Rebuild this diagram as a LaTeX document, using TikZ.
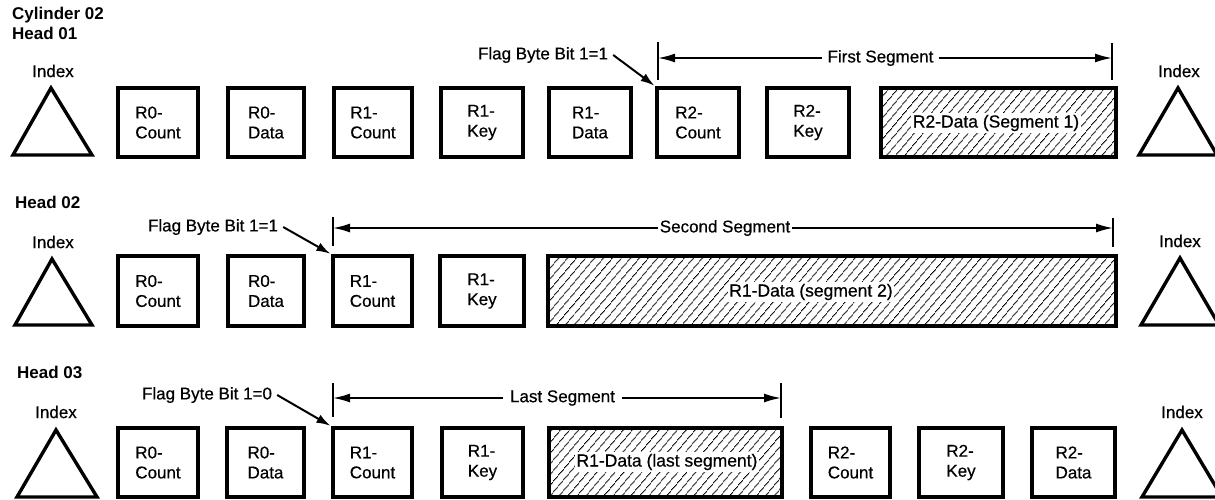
\documentclass[tikz,border=0pt]{standalone}
\usepackage{fontspec}
\setmainfont{Liberation Sans}[FakeBold=0.5, BoldFeatures={FakeBold=0}]
\usetikzlibrary{arrows.meta,patterns.meta}
\newcommand\mkbox[7]{\node[#1, minimum width=#4-#3, minimum height=#6-#5] (#2) at ({(#3+#4)/2},{(#5+#6)/2}) {#7};}
\begin{document}
\begin{tikzpicture}[x=1pt,y=-1pt,
  lbl/.style={font=\fontsize{17}{20}\selectfont, inner sep=0pt},
  headlbl/.style={font=\fontsize{17}{20}\selectfont\bfseries, inner sep=0pt, anchor=west},
  rec/.style={draw, line width=3.4pt, inner sep=0pt, font=\fontsize{17}{20}\selectfont, align=left},
  hatch/.style={rec, pattern={Lines[angle=50,distance=6.5pt,line width=1pt]}},
  hlbl/.style={font=\fontsize{17.5}{20}\selectfont, fill=white, inner sep=1.5pt},
  tri/.style={draw, line width=3.4pt, line join=miter},
  segline/.style={line width=1.8pt, -{Latex[length=17pt,width=9pt]}},
  seglbl/.style={font=\fontsize{17}{20}\selectfont, inner ysep=0pt, inner xsep=5pt},
  bar/.style={line width=2.4pt},
  flaglbl/.style={font=\fontsize{17}{20}\selectfont, inner ysep=0pt, inner xsep=5pt},
  flagarrow/.style={line width=2pt, -{Latex[length=14pt,width=9pt]}, shorten >=1pt},
]
\useasboundingbox (0,0) rectangle (1215,499);
\clip (0,0) rectangle (1215,499);

% ---------- Row 1 ----------
\node[headlbl] (cyl) at (12,15) {Cylinder 02};
\node[headlbl] (h1) at (12,33) {Head 01};
\node[lbl] (ix1l) at (53,71) {Index};
\node[lbl] (ix1r) at (1179,71) {Index};
\draw[tri] (51,88) -- (92,155) -- (13,155) -- cycle;
\draw[tri] (1178,88) -- (1217,155) -- (1139,155) -- cycle;
\mkbox{rec}{a1}{118}{198}{88}{157}{R0-\\Count}
\mkbox{rec}{a2}{228}{304}{88}{157}{R0-\\Data}
\mkbox{rec}{a3}{334}{412}{88}{157}{R1-\\Count}
\mkbox{rec}{a4}{441}{523}{88}{157}{R1-\\Key}
\mkbox{rec}{a5}{549}{631}{88}{157}{R1-\\Data}
\mkbox{rec}{a6}{657}{739}{88}{157}{R2-\\Count}
\mkbox{rec}{a7}{767}{849}{88}{157}{R2-\\Key}
\mkbox{hatch}{a8}{881}{1116}{88}{157}{}
\node[hlbl] (a8t) at (996,123) {R2-Data (Segment 1)};
\node[flaglbl] (f1) at (543,55) {Flag Byte Bit 1=1};
\draw[flagarrow] (f1.east) -- (a6.north west);
\draw[bar] (658,42) -- (658,80);
\draw[bar] (1112,43) -- (1112,80);
\coordinate (s1l) at (658,58);
\coordinate (s1r) at (1112,58);
\node[seglbl] (s1) at (880.5,58) {First Segment};
\draw[segline] (s1.west) -- (s1l);
\draw[segline] (s1.east) -- (s1r);

% ---------- Row 2 ----------
\node[headlbl] (h2) at (15,202) {Head 02};
\node[lbl] (ix2l) at (53,242) {Index};
\node[lbl] (ix2r) at (1180,241) {Index};
\draw[tri] (52,259) -- (92,325) -- (15,325) -- cycle;
\draw[tri] (1180,258) -- (1219,325) -- (1141,325) -- cycle;
\mkbox{rec}{b1}{118}{198}{256}{326}{R0-\\Count}
\mkbox{rec}{b2}{228}{304}{256}{326}{R0-\\Data}
\mkbox{rec}{b3}{333}{412}{256}{326}{R1-\\Count}
\mkbox{rec}{b4}{440}{524}{256}{326}{R1-\\Key}
\mkbox{hatch}{b5}{548}{1116}{256}{326}{}
\node[hlbl] (b5t) at (811,292) {R1-Data (segment 2)};
\node[flaglbl] (f2) at (213,227) {Flag Byte Bit 1=1};
\draw[flagarrow] (f2.east) -- (b3.north west);
\draw[bar] (333,217) -- (333,246);
\draw[bar] (1113,218) -- (1113,247);
\coordinate (s2l) at (333,228);
\coordinate (s2r) at (1113,228);
\node[seglbl, inner xsep=2pt] (s2) at (725,228) {Second Segment};
\draw[segline] (s2.west) -- (s2l);
\draw[segline] (s2.east) -- (s2r);

% ---------- Row 3 ----------
\node[headlbl] (h3) at (17,372) {Head 03};
\node[lbl] (ix3l) at (56,412) {Index};
\node[lbl] (ix3r) at (1182,412) {Index};
\draw[tri] (56,430) -- (97,497) -- (17,497) -- cycle;
\draw[tri] (1182,430) -- (1222,497) -- (1142,497) -- cycle;
\mkbox{rec}{c1}{118}{198}{428}{497}{R0-\\Count}
\mkbox{rec}{c2}{227}{304}{428}{497}{R0-\\Data}
\mkbox{rec}{c3}{333}{412}{428}{497}{R1-\\Count}
\mkbox{rec}{c4}{442}{523}{428}{497}{R1-\\Key}
\mkbox{hatch}{c5}{549}{782}{428}{497}{}
\node[hlbl] (c5t) at (667,462) {R1-Data (last segment)};
\mkbox{rec}{c6}{811}{890}{428}{497}{R2-\\Count}
\mkbox{rec}{c7}{919}{1003}{428}{497}{R2-\\Key}
\mkbox{rec}{c8}{1032}{1115}{428}{497}{R2-\\Data}
\node[flaglbl] (f3) at (207,395) {Flag Byte Bit 1=0};
\draw[flagarrow] (f3.east) -- (c3.north west);
\draw[bar] (333,383) -- (333,417);
\draw[bar] (781,383) -- (781,418);
\coordinate (s3l) at (333,398);
\coordinate (s3r) at (781,398);
\node[seglbl, inner xsep=7pt] (s3) at (562.5,398) {Last Segment};
\draw[segline] (s3.west) -- (s3l);
\draw[segline] (s3.east) -- (s3r);
\end{tikzpicture}
\end{document}
